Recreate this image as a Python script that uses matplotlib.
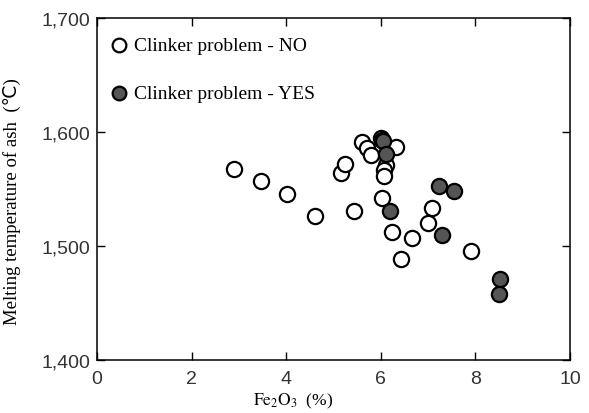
import matplotlib
matplotlib.use('Agg')
import matplotlib.pyplot as plt

plt.rcParams['mathtext.fontset'] = 'stix'

# clinker problem - NO (open circles)
fe_no = [2.90, 3.46, 4.02, 4.61, 5.43, 5.16, 5.24, 5.60, 5.70, 5.80, 6.00, 6.02,
         6.32, 6.12, 6.07, 6.07, 6.03, 6.24, 6.67, 6.43, 7.08, 7.00, 7.91]
temp_no = [1568, 1557, 1546, 1526, 1531, 1564, 1572, 1591, 1586, 1580, 1595, 1593,
           1587, 1571, 1567, 1561, 1542, 1512, 1507, 1489, 1533, 1520, 1496]

# clinker problem - YES (filled circles)
fe_yes = [6.04, 6.12, 6.19, 7.24, 7.55, 7.29, 8.51, 8.50]
temp_yes = [1592, 1581, 1531, 1553, 1548, 1510, 1471, 1458]

fig = plt.figure(figsize=(5.89, 4.14), dpi=100)
ax = fig.add_axes([0.1647, 0.128, 0.803, 0.826])

ax.scatter(fe_no, temp_no, s=120, facecolor='white', edgecolor='black',
           linewidth=1.6, label='Clinker problem - NO', zorder=3)
ax.scatter(fe_yes, temp_yes, s=120, facecolor='#555555', edgecolor='black',
           linewidth=1.6, label='Clinker problem - YES', zorder=4)

ax.set_xlim(0, 10)
ax.set_ylim(1400, 1700)
ax.set_xticks([0, 2, 4, 6, 8, 10])
ax.set_yticks([1400, 1500, 1600, 1700])
ax.set_yticklabels(['1,400', '1,500', '1,600', '1,700'])
ax.tick_params(direction='in', top=True, right=True, length=6, width=1,
               labelsize=14, labelcolor='#333333')
ax.tick_params(axis='x', pad=7)
ax.tick_params(axis='y', pad=5)
for lab in ax.get_xticklabels() + ax.get_yticklabels():
    lab.set_family('Liberation Sans')
for sp in ax.spines.values():
    sp.set_linewidth(1.1)

ax.set_xlabel(r'$\mathrm{Fe_2O_3}$  (%)', family='Liberation Serif', fontsize=12.5)
ax.xaxis.set_label_coords(0.415, -0.09)
ax.set_ylabel('Melting temperature of ash  (\u2103)', family=['Liberation Serif', 'DejaVu Sans'],
              fontsize=13.5)
ax.yaxis.set_label_coords(-0.16, 0.465)

ax.legend(loc='upper left', frameon=False, prop={'family': 'Liberation Serif', 'size': 14},
          labelspacing=1.55, handlelength=0.4, handletextpad=0.55, borderaxespad=0.2,
          borderpad=0.75, markerscale=0.9)

fig.savefig('out.png', dpi=100)
